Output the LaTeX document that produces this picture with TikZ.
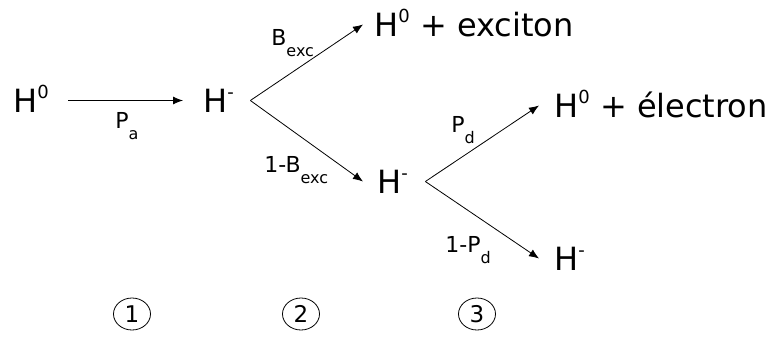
\documentclass[tikz,border=0pt]{standalone}
\usepackage{fontspec}
\setmainfont{DejaVu Sans}
\usetikzlibrary{arrows.meta,shapes.geometric}

\newcommand{\hsup}[1]{\raisebox{14pt}{\fontsize{18}{18}\selectfont #1}}
\newcommand{\lsub}[1]{\raisebox{-11pt}{\fontsize{16}{16}\selectfont #1}}

\begin{document}
\begin{tikzpicture}[x=1pt, y=-1pt, line width=0.8pt,
  species/.style={inner sep=0pt, text height=23pt, text depth=0pt,
    anchor=base west, font=\fontsize{32}{36}\selectfont},
  prob/.style={inner sep=0pt, anchor=base west, font=\fontsize{22}{26}\selectfont},
  stage/.style={draw, ellipse, inner sep=0pt, minimum width=37pt,
    minimum height=32pt, font=\fontsize{23}{26}\selectfont},
  branch/.style={-{Latex[length=10pt,width=8pt]}}]
  \useasboundingbox (0,0) rectangle (769,338);

  \node[species] (h0)  at (13,112)  {H\hsup{0}};
  \node[species] (hm1) at (203,112) {H\hsup{-}};
  \node[species] (ex)  at (374,36)  {H\hsup{0} + exciton};
  \node[species] (hm2) at (377,193) {H\hsup{-}};
  \node[species] (el)  at (554,117) {H\hsup{0} + électron};
  \node[species] (hm3) at (554,270) {H\hsup{-}};

  \coordinate (V1) at ([xshift=16pt]hm1.east);
  \coordinate (V2) at ([xshift=17pt]hm2.east);

  \draw[branch, shorten <=19pt, shorten >=20pt] (h0.east) -- (hm1.west);
  \draw[branch] (V1) -- ([xshift=-11pt]ex.west);
  \draw[branch] (V1) -- ([xshift=-14pt]hm2.west);
  \draw[branch] (V2) -- ([xshift=-15pt]el.west);
  \draw[branch] (V2) -- ([xshift=-15pt]hm3.west);

  \node[prob] (pa)  at (115,128) {P\lsub{a}};
  \node[prob] (bx)  at (271,45)  {B\lsub{exc}};
  \node[prob] (nbx) at (264,172) {1-B\lsub{exc}};
  \node[prob] (pd)  at (451,132) {P\lsub{d}};
  \node[prob] (npd) at (445,252) {1-P\lsub{d}};

  % etapes
  \node[stage] (s1) at (132,314) {1};
  \node[stage] (s2) at (301,314) {2};
  \node[stage] (s3) at (477,314) {3};
\end{tikzpicture}
\end{document}
